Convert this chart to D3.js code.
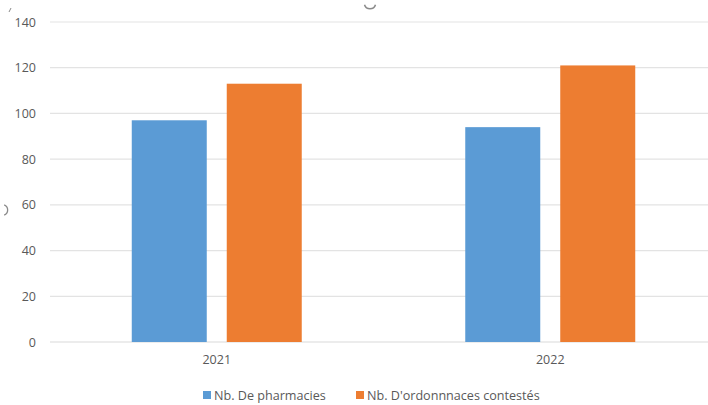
<!DOCTYPE html>
<html><head><meta charset="utf-8">
<script src="https://cdn.jsdelivr.net/npm/d3@7/dist/d3.min.js"></script>
<style>
body{margin:0;background:#fff;}
text{font-family:"Open Sans","Noto Sans",sans-serif;fill:#595959;}
</style></head><body>
<svg id="c" width="708" height="405"></svg>
<script>
const categories = ["2021", "2022"];
const seriesNames = ["Nb. De pharmacies", "Nb. D'ordonnnaces contestés"];
const pharmacies = [97, 94];
const ordonnances = [113, 121];
const yTicks = [0, 20, 40, 60, 80, 100, 120, 140];
const colors = ["#5B9BD5", "#ED7D31"];

const seriesValues = [pharmacies, ordonnances];
const svg = d3.select("#c");
const y = d3.scaleLinear().domain([0, 140]).range([342, 22]);
const x0 = d3.scaleBand().domain(categories).range([50, 717]).paddingInner(0.4903).paddingOuter(0.24515);
const x1 = d3.scaleBand().domain(seriesNames).range([0, x0.bandwidth()]).paddingInner(0.2105).paddingOuter(0);

// gridlines
svg.append("g").selectAll("line").data(yTicks).join("line")
  .attr("x1", 50).attr("x2", 708)
  .attr("y1", d => y(d)).attr("y2", d => y(d))
  .attr("stroke", d => d === 0 ? "#d9d9d9" : "#e3e3e3").attr("stroke-width", 1.2);

// y axis labels
const yAxis = d3.axisLeft(y).tickValues(yTicks).tickSize(0).tickPadding(0);
const gy = svg.append("g").attr("transform", "translate(36,0)").call(yAxis);
gy.select(".domain").remove();
gy.selectAll("text").attr("font-size", 12.5).style("fill", "#595959").attr("font-family", "Open Sans");

// bars
const groups = svg.append("g").selectAll("g").data(categories).join("g")
  .attr("transform", d => `translate(${x0(d)},0)`);
groups.selectAll("rect").data((c, i) => seriesNames.map((s, j) => ({s, v: seriesValues[j][i], j})))
  .join("rect")
  .attr("x", d => x1(d.s)).attr("width", x1.bandwidth())
  .attr("y", d => y(d.v)).attr("height", d => y(0) - y(d.v))
  .attr("fill", d => colors[d.j]);

// x axis labels
const xAxis = d3.axisBottom(x0).tickSize(0).tickPadding(0);
const gx = svg.append("g").attr("transform", "translate(0,355)").call(xAxis);
gx.select(".domain").remove();
gx.selectAll("text").attr("font-size", 12.5).style("fill", "#595959").attr("font-family", "Open Sans");

// legend
const legendX = [203, 356];
const lg = svg.append("g").selectAll("g").data(seriesNames).join("g")
  .attr("transform", (d, i) => `translate(${legendX[i]},391)`);
lg.append("rect").attr("width", 8).attr("height", 8).attr("y", 0).attr("fill", (d, i) => colors[i]);
lg.append("text").attr("x", 11).attr("y", 8.8).attr("font-size", 12.6).text(d => d);

// screenshot artifacts (selection handles)
svg.append("path").attr("d", d3.arc()({innerRadius: 5, outerRadius: 6.5, startAngle: Math.PI/2 + 0.3, endAngle: 3*Math.PI/2 - 0.3}))
  .attr("transform", "translate(370,3)").attr("fill", "#8a8a8a");
svg.append("path").attr("d", d3.arc()({innerRadius: 5, outerRadius: 6.3, startAngle: 0.4, endAngle: Math.PI - 0.4}))
  .attr("transform", "translate(2,210)").attr("fill", "#8a8a8a");
svg.append("line").attr("x1", 9).attr("y1", 12).attr("x2", 11).attr("y2", 8).attr("stroke", "#8a8a8a").attr("stroke-width", 1);
</script>
</body></html>
